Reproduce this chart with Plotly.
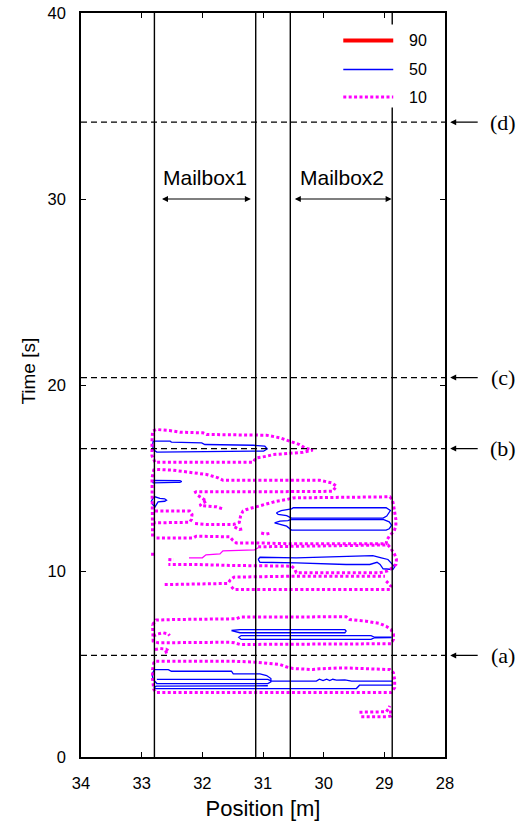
import plotly.graph_objects as go

# ------------------------------------------------------------------ data
x_ticks = [34, 33, 32, 31, 30, 29, 28]
y_ticks = [0, 10, 20, 30, 40]
x_range = [34, 28]
y_range = [0, 40]

mailbox_walls = [32.79, 31.12, 30.55, 28.87]          # vertical solid lines [m]
event_times = [5.46, 16.58, 20.40, 34.13]             # dashed lines [s]
event_labels = ["(a)", "(b)", "(c)", "(d)"]
mailbox_names = ["Mailbox1", "Mailbox2"]
mailbox_spans = [(32.69, 31.20), (30.50, 28.88)]
mailbox_arrow_time = 30.0
mailbox_label_time = 31.15
mailbox_label_pos = [31.96, 29.69]

levels = ["90", "50", "10"]

# ---- level 90 : no contour in the shown window
c90 = []

# ---- level 50 contours (position [m], time [s])
c50_top = [(32.81, 16.98), (32.53, 16.98), (32.51, 16.93), (32.01, 16.89), (31.96, 16.80),
           (31.16, 16.76), (30.97, 16.71), (30.93, 16.57), (30.99, 16.44), (31.16, 16.44),
           (32.75, 16.39), (32.81, 16.53), (32.82, 16.80), (32.81, 16.98)]
c50_s1 = [(32.81, 14.87), (32.45, 14.87), (32.37, 14.86), (32.34, 14.81), (32.37, 14.76),
          (32.45, 14.76), (32.81, 14.74), (32.82, 14.80), (32.81, 14.87)]
c50_s2 = [(32.81, 13.93), (32.78, 13.99), (32.70, 13.90), (32.62, 13.88), (32.59, 13.81),
          (32.62, 13.75), (32.73, 13.72), (32.76, 13.58), (32.78, 13.45), (32.82, 13.58),
          (32.84, 13.75), (32.81, 13.93)]
c50_m2a = [(30.78, 13.13), (30.70, 13.25), (30.53, 13.34), (30.50, 13.40), (28.97, 13.40),
           (28.90, 13.25), (28.96, 12.95), (29.02, 12.84), (30.53, 12.84), (30.61, 12.98),
           (30.75, 13.04), (30.78, 13.13)]
c50_m2b = [(30.81, 12.59), (30.72, 12.68), (30.59, 12.71), (30.53, 12.77), (29.02, 12.77),
           (28.92, 12.64), (28.88, 12.46), (28.92, 12.27), (28.97, 12.20), (30.53, 12.20),
           (30.61, 12.41), (30.75, 12.52), (30.81, 12.59)]
c50_m2c = [(31.08, 10.62), (31.05, 10.74), (30.45, 10.71), (29.74, 10.80), (29.19, 10.83),
           (29.05, 10.71), (28.94, 10.62), (28.89, 10.44), (28.83, 10.22), (28.86, 10.08),
           (29.02, 10.12), (29.07, 10.35), (29.12, 10.47), (29.24, 10.35), (29.63, 10.35),
           (30.45, 10.44), (31.05, 10.47), (31.08, 10.62)]
c50_u1 = [(31.52, 6.80), (31.38, 6.85), (29.65, 6.85), (29.63, 6.77), (29.65, 6.68),
          (31.38, 6.68), (31.52, 6.80)]
c50_u2 = [(28.88, 6.44), (29.16, 6.44), (29.22, 6.53), (31.36, 6.53), (31.40, 6.44),
          (31.36, 6.32), (29.22, 6.32), (29.16, 6.41), (28.88, 6.42)]
c50_l1 = [(32.79, 4.70), (32.56, 4.70), (32.51, 4.61), (31.52, 4.61), (31.49, 4.47),
          (31.05, 4.47), (30.94, 4.38), (30.87, 4.22), (30.87, 4.04), (30.92, 3.95),
          (32.75, 3.95), (32.81, 4.17), (32.83, 4.44), (32.79, 4.70)]
c50_l2 = [(32.75, 4.17), (30.92, 4.17), (30.86, 4.08), (30.12, 4.08), (30.07, 4.18),
          (30.01, 4.11), (29.95, 4.18), (29.90, 4.11), (29.85, 4.18), (29.79, 4.13),
          (29.65, 4.15), (29.54, 4.08), (28.86, 4.08)]
c50_l3 = [(28.86, 3.86), (29.41, 3.86), (29.46, 3.68), (32.77, 3.68), (32.79, 3.75),
          (32.76, 3.81), (30.92, 3.83)]
c50 = [c50_top, c50_s1, c50_s2, c50_m2a, c50_m2b, c50_m2c, c50_u1, c50_u2,
       c50_l1, c50_l2, c50_l3]

# ---- level 10 contours (dotted)
c10_top = [(32.78, 15.85), (32.83, 16.20), (32.83, 17.00), (32.82, 17.52), (32.76, 17.61),
           (32.54, 17.55), (32.37, 17.46), (31.99, 17.43), (31.93, 17.34), (31.16, 17.34),
           (30.94, 17.30), (30.72, 17.16), (30.56, 16.98), (30.40, 16.80), (30.31, 16.62),
           (30.18, 16.50), (30.34, 16.38), (30.60, 16.33), (30.83, 16.26), (30.94, 16.17),
           (31.11, 16.08), (31.14, 15.96), (31.16, 15.85), (32.78, 15.85)]
c10_m2 = [(32.82, 11.85), (32.83, 13.50), (32.83, 15.00), (32.80, 15.43), (32.76, 15.46),
          (32.48, 15.42), (32.37, 15.37), (32.21, 15.28), (31.93, 15.19), (31.74, 15.01),
          (31.66, 14.88), (30.07, 14.88), (29.87, 14.74), (29.79, 14.56), (29.82, 14.40),
          (29.85, 14.29), (30.10, 14.27), (32.10, 14.26), (32.15, 14.17)]
c10_m3 = [(32.07, 14.06), (31.99, 13.88), (31.93, 13.75), (32.01, 13.63), (32.04, 13.52),
          (31.93, 13.49), (31.77, 13.45), (31.66, 13.34)]
c10_r12 = [(32.78, 13.22), (32.21, 13.22), (32.17, 13.04), (32.18, 12.77), (32.21, 12.62),
           (32.78, 12.59)]
c10_m2out = [(32.12, 12.55), (31.93, 12.50), (31.49, 12.50), (31.39, 12.62), (31.37, 12.95),
             (31.33, 13.22), (31.27, 13.31), (31.11, 13.45), (30.94, 13.58), (30.78, 13.75),
             (30.61, 13.84), (30.51, 13.93), (28.91, 13.99), (28.87, 13.84), (28.85, 13.58),
             (28.83, 13.22), (28.81, 12.77), (28.81, 12.41), (28.84, 12.14), (28.91, 11.91),
             (28.96, 11.66), (28.97, 11.46), (30.51, 11.46), (31.11, 11.51), (31.44, 11.51),
             (31.50, 11.66), (31.55, 11.84), (32.10, 11.87), (32.15, 11.78), (32.78, 11.78)]
c10_bits1 = [(31.03, 12.04), (30.95, 11.98), (30.86, 12.05)]
c10_bits2 = [(31.47, 12.37), (31.39, 12.23), (31.32, 12.27)]
c10_mid = [(31.08, 11.30), (30.51, 11.33), (28.94, 11.40), (28.90, 11.25), (28.86, 11.07),
           (28.83, 10.89), (28.80, 10.62), (28.81, 10.35), (28.89, 10.12), (28.96, 9.99),
           (29.08, 9.90), (30.45, 9.90), (30.48, 10.12), (30.53, 10.26), (31.55, 10.30),
           (32.10, 10.35), (32.56, 10.35)]
c10_bits3 = [(32.82, 10.98), (32.82, 10.76)]
c10_bits4 = [(32.56, 10.62), (32.47, 10.60)]
c10_r8 = [(32.62, 9.27), (31.58, 9.33), (31.54, 9.51), (31.48, 9.67), (30.51, 9.72),
          (28.99, 9.72)]
c10_r9 = [(31.52, 9.15), (31.48, 9.00), (28.91, 9.00), (28.89, 9.18), (28.94, 9.36),
          (28.97, 9.45)]
c10_n1 = [(32.82, 7.12), (32.76, 7.36), (32.48, 7.39), (31.44, 7.43), (31.38, 7.52),
          (29.74, 7.57), (29.63, 7.54), (29.57, 7.39), (29.30, 7.30), (29.08, 7.18),
          (28.97, 7.03), (28.89, 6.85), (28.85, 6.59), (28.85, 6.32), (28.89, 6.09),
          (31.38, 6.05), (31.47, 6.14), (31.55, 6.17), (32.73, 6.14), (32.81, 6.23),
          (32.82, 6.68), (32.82, 7.12)]
c10_n1w = [(32.81, 6.50), (32.73, 6.62), (32.65, 6.68), (32.56, 6.62), (32.54, 6.53)]
c10_n2 = [(32.78, 5.78), (32.70, 5.83), (32.60, 5.80), (32.55, 5.70), (32.62, 5.62)]
c10_n3 = [(32.76, 5.15), (31.49, 5.15), (31.14, 5.10), (30.72, 4.97), (30.62, 4.85),
          (30.51, 4.76), (30.18, 4.70), (30.07, 4.74), (29.74, 4.79), (29.57, 4.78),
          (28.91, 4.70), (28.85, 4.53), (28.83, 4.17), (28.83, 3.72), (28.89, 3.47),
          (32.76, 3.47), (32.80, 3.63), (32.82, 4.17), (32.82, 4.70), (32.80, 5.06),
          (32.76, 5.15)]
c10_n4a = [(29.41, 2.41), (28.97, 2.43), (28.93, 2.60), (28.91, 2.75)]
c10_n4b = [(28.90, 2.50), (28.89, 2.20), (28.95, 2.16), (29.41, 2.16)]
c10 = [c10_top, c10_m2, c10_m3, c10_r12, c10_m2out, c10_bits1, c10_bits2, c10_mid,
       c10_bits3, c10_bits4, c10_r8, c10_r9, c10_n1, c10_n1w, c10_n2, c10_n3,
       c10_n4a, c10_n4b]
# densely sampled part of the 10-contour that renders as a thin continuous line
c10_dense = [(32.22, 10.71), (32.00, 10.71), (31.94, 10.87), (31.71, 10.92), (31.66, 11.08),
             (31.14, 11.14), (31.08, 11.25)]

# ------------------------------------------------------------------ style
W, H = 527, 823
PL, PR, PT, PB = 80.5, 444.8, 13.4, 757.5     # plot-area edges in pixels
SANS = "Liberation Sans, Arial, Helvetica, sans-serif"
SERIF = "Liberation Serif, Times New Roman, serif"
COL = {"90": "#ff0000", "50": "#0000ff", "10": "#ff00ff"}
DOT = "3px,2.4px"


def px_x(p):
    return (p - PL) / (PR - PL)


def px_y(p):
    return (PB - p) / (PB - PT)


fig = go.Figure()


def add_curves(curves, level, width, dash):
    for c in curves:
        fig.add_trace(go.Scatter(
            x=[p[0] for p in c], y=[p[1] for p in c], mode="lines",
            line=dict(color=COL[level], width=width, dash=dash),
            name=level, legendgroup=level, showlegend=False, hoverinfo="skip"))


fig.add_trace(go.Scatter(x=[p[0] for p in c90], y=[p[1] for p in c90], mode="lines",
                         line=dict(color=COL["90"], width=3.5), name="90",
                         showlegend=False))
add_curves(c50, "50", 1.3, "solid")
add_curves(c10, "10", 3, DOT)
add_curves([c10_dense], "10", 1.3, "solid")

shapes = []
for xw in mailbox_walls:
    shapes.append(dict(type="line", xref="x", yref="y", x0=xw, x1=xw,
                       y0=y_range[0], y1=y_range[1],
                       line=dict(color="black", width=1.4), layer="above"))
for t in event_times:
    shapes.append(dict(type="line", xref="x", yref="y", x0=x_range[0], x1=x_range[1],
                       y0=t, y1=t, line=dict(color="black", width=1.3, dash="6px,4px"),
                       layer="above"))

# legend box (drawn by hand to match the long line samples)
shapes.append(dict(type="rect", xref="paper", yref="paper",
                   x0=px_x(334), x1=px_x(438), y0=px_y(108), y1=px_y(25),
                   fillcolor="white", line=dict(width=0), layer="above"))
leg_y = [41, 70, 97.5]
leg_style = [dict(color=COL["90"], width=4), dict(color=COL["50"], width=1.5),
             dict(color=COL["10"], width=3, dash=DOT)]
annotations = []
for lv, yy, st in zip(levels, leg_y, leg_style):
    shapes.append(dict(type="line", xref="paper", yref="paper",
                       x0=px_x(343), x1=px_x(393), y0=px_y(yy), y1=px_y(yy),
                       line=st, layer="above"))
    annotations.append(dict(xref="paper", yref="paper", x=px_x(407), y=px_y(yy),
                            text=lv, showarrow=False, xanchor="left", yanchor="middle",
                            font=dict(family=SANS, size=16, color="black")))

# mailbox labels and double arrows
for name, (xa, xb), xl in zip(mailbox_names, mailbox_spans, mailbox_label_pos):
    annotations.append(dict(xref="x", yref="y", x=xl, y=mailbox_label_time, text=name,
                            showarrow=False, xanchor="center", yanchor="middle",
                            font=dict(family=SANS, size=21, color="black")))
    annotations.append(dict(xref="x", yref="y", x=xb, y=mailbox_arrow_time,
                            axref="x", ayref="y", ax=xa, ay=mailbox_arrow_time,
                            text="", showarrow=True, arrowhead=2, startarrowhead=2,
                            arrowside="end+start", arrowsize=1, startarrowsize=1,
                            arrowwidth=1.2, arrowcolor="black"))

# event markers on the right
for t, lab in zip(event_times, event_labels):
    annotations.append(dict(xref="paper", yref="y", x=px_x(450), y=t, ax=29, ay=0,
                            text="", showarrow=True, arrowhead=2, arrowsize=1,
                            arrowwidth=1.2, arrowcolor="black"))
    annotations.append(dict(xref="paper", yref="y", x=px_x(502.5), y=t, text=lab,
                            showarrow=False, xanchor="center", yanchor="middle",
                            font=dict(family=SERIF, size=22, color="black")))

# y-axis title (placed slightly above the axis centre, as in the original)
annotations.append(dict(xref="paper", yref="paper", x=px_x(28), y=px_y(371.5),
                        text="Time [s]", showarrow=False, textangle=-90,
                        xanchor="center", yanchor="middle",
                        font=dict(family=SANS, size=19, color="black")))

axis_common = dict(showgrid=False, zeroline=False, showline=True, linecolor="black",
                   linewidth=1.5, mirror="ticks", ticks="inside", ticklen=5,
                   tickwidth=1.2, tickcolor="black", automargin=False,
                   tickfont=dict(family=SANS, size=16.5, color="black"))

fig.update_layout(
    width=W, height=H,
    margin=dict(l=PL, r=W - PR, t=PT, b=H - PB, autoexpand=False),
    paper_bgcolor="white", plot_bgcolor="white",
    showlegend=False,
    xaxis=dict(range=x_range, tickvals=x_ticks, ticklabelstandoff=10,
               title=dict(text="Position [m]", standoff=10,
                          font=dict(family=SANS, size=22, color="black")),
               **axis_common),
    yaxis=dict(range=y_range, tickvals=y_ticks, ticklabelstandoff=10, **axis_common),
    shapes=shapes, annotations=annotations,
)

fig.write_html("out.html")
